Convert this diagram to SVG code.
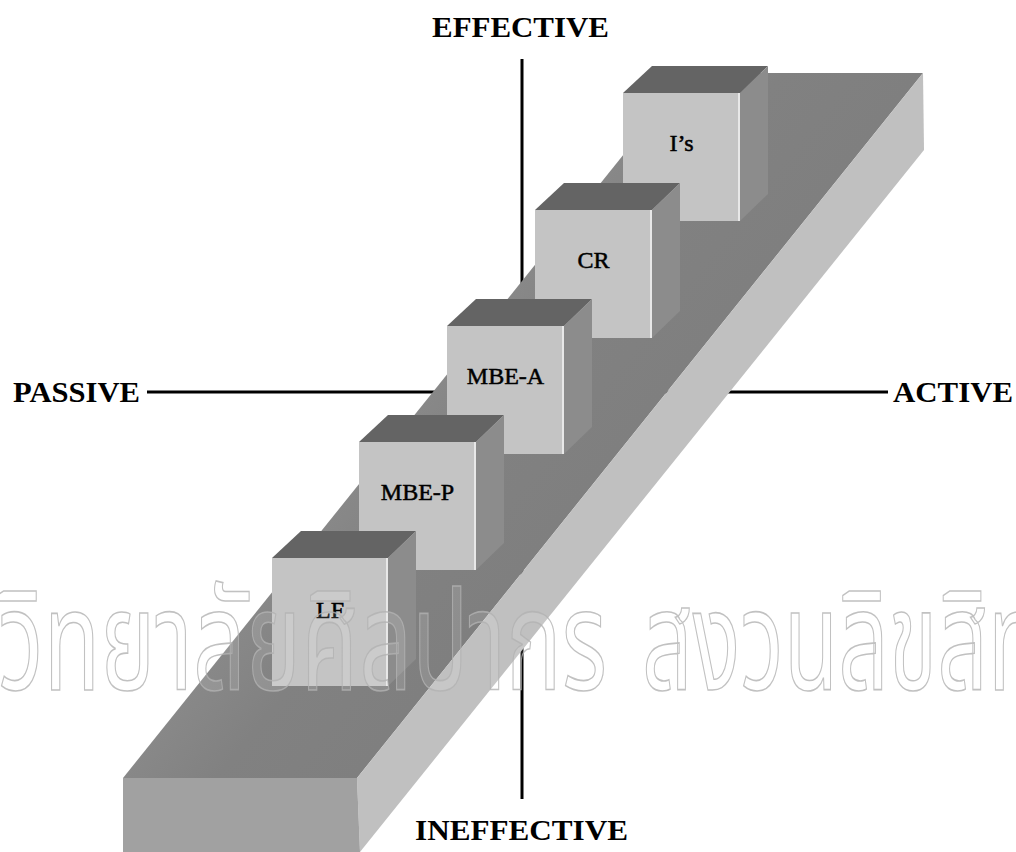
<svg xmlns="http://www.w3.org/2000/svg" width="1016" height="852" viewBox="0 0 1016 852">
  <style>
    .axis { stroke: #000; stroke-width: 3; fill: none; }
    .alabel { font-family: "Liberation Serif", "Times New Roman", serif; font-weight: bold; font-size: 30px; fill: #000; }
    .clabel { font-family: "Liberation Serif", "Times New Roman", serif; font-size: 24px; fill: #000; stroke: #000; stroke-width: 0.5; text-anchor: middle; }
    .cfront { fill: #c4c4c4; }
    .ctop { fill: #646464; }
    .cside { fill: #8c8c8c; }
    .chl { stroke: #f4f4f4; stroke-width: 1.5; }
    .wm { font-family: "Noto Sans Thai", "Loma", "Garuda", "Noto Sans", sans-serif; font-size: 140px; fill: #ffffff; fill-opacity: 0.12; stroke: #b1b1b1; stroke-opacity: 0.8; stroke-width: 1.6; }
  </style>
  <defs>
    <linearGradient id="topGrad" gradientUnits="userSpaceOnUse" x1="406" y1="425" x2="548" y2="539">
      <stop offset="0" stop-color="#888888"/>
      <stop offset="0.4" stop-color="#818181"/>
      <stop offset="1" stop-color="#7f7f7f"/>
    </linearGradient>
  </defs>
  <rect width="1016" height="852" fill="#ffffff"/>

  <g id="connectors">
    <line class="axis" x1="147" y1="392" x2="888" y2="392"/>
    <line class="axis" x1="522" y1="59" x2="522" y2="799"/>
  </g>

  <g id="beam">
    <polygon points="123,778 357,778 923,73 689,73" fill="url(#topGrad)"/>
    <polygon points="357,778 923,73 924,150 360,852" fill="#c0c0c0"/>
    <polygon points="123,778 357,778 360,852 123,852" fill="#a1a1a1"/>
  </g>

  <g id="axis-labels">
    <text class="alabel" x="432" y="37" textLength="177" lengthAdjust="spacingAndGlyphs">EFFECTIVE</text>
    <text class="alabel" x="13" y="402" textLength="127" lengthAdjust="spacingAndGlyphs">PASSIVE</text>
    <text class="alabel" x="893" y="402" textLength="120" lengthAdjust="spacingAndGlyphs">ACTIVE</text>
    <text class="alabel" x="415" y="840" textLength="213" lengthAdjust="spacingAndGlyphs">INEFFECTIVE</text>
  </g>

  <g id="cube-Is">
    <polygon class="ctop" points="623,93 652,66 768,66 740,93"/>
    <polygon class="cside" points="740,93 768,66 768,194 740,221"/>
    <rect class="cfront" x="623" y="93" width="117" height="128"/>
    <line class="chl" x1="739" y1="93" x2="739" y2="221"/>
    <text class="clabel" x="681.5" y="151">I’s</text>
  </g>
  <g id="cube-CR">
    <polygon class="ctop" points="535,210 564,183 680,183 652,210"/>
    <polygon class="cside" points="652,210 680,183 680,311 652,338"/>
    <rect class="cfront" x="535" y="210" width="117" height="128"/>
    <line class="chl" x1="651" y1="210" x2="651" y2="338"/>
    <text class="clabel" x="593.5" y="268">CR</text>
  </g>
  <g id="cube-MBE-A">
    <polygon class="ctop" points="447,326 476,299 592,299 564,326"/>
    <polygon class="cside" points="564,326 592,299 592,427 564,454"/>
    <rect class="cfront" x="447" y="326" width="117" height="128"/>
    <line class="chl" x1="563" y1="326" x2="563" y2="454"/>
    <text class="clabel" x="505.5" y="384">MBE-A</text>
  </g>
  <g id="cube-MBE-P">
    <polygon class="ctop" points="359,442 388,415 504,415 476,442"/>
    <polygon class="cside" points="476,442 504,415 504,543 476,570"/>
    <rect class="cfront" x="359" y="442" width="117" height="128"/>
    <line class="chl" x1="475" y1="442" x2="475" y2="570"/>
    <text class="clabel" x="417.5" y="500">MBE-P</text>
  </g>
  <g id="cube-LF">
    <polygon class="ctop" points="272,558 301,531 416,531 388,558"/>
    <polygon class="cside" points="388,558 416,531 416,659 388,686"/>
    <rect class="cfront" x="272" y="558" width="116" height="128"/>
    <line class="chl" x1="387" y1="558" x2="387" y2="686"/>
    <text class="clabel" x="330" y="618">LF</text>
  </g>

  <g id="watermark">
    <text class="wm" x="-2" y="690" textLength="609" lengthAdjust="spacingAndGlyphs">วิทยาลัยศิลปากร</text>
    <text class="wm" x="642" y="690" textLength="400" lengthAdjust="spacingAndGlyphs">สงวนลิขสิท</text>
  </g>
</svg>
